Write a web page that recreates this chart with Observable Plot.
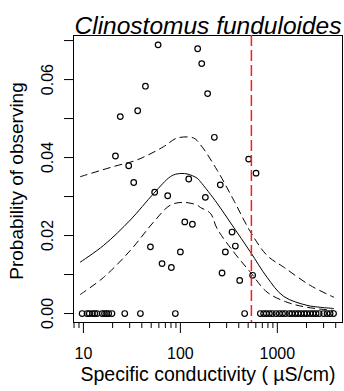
<!DOCTYPE html>
<html>
<head>
<meta charset="utf-8">
<script src="https://cdn.jsdelivr.net/npm/d3@7"></script>
<script src="https://cdn.jsdelivr.net/npm/@observablehq/plot@0.6"></script>
<style>
  html, body { margin: 0; padding: 0; background: #fff; }
</style>
</head>
<body>
<div id="chart"></div>
<script>
// Sites where the species was observed: conductivity (µS/cm) and binned probability
const obsX = [58.9, 150.7, 166, 43.6, 191, 36.3, 24.0, 21.4, 29.3, 224, 506, 603,
              33.0, 122, 54.3, 74.0, 181, 111, 133, 49.1, 100, 64.7, 80.7,
              258, 341, 369, 291, 269, 409, 556];
const obsY = [0.0689, 0.0679, 0.0641, 0.0583, 0.0564, 0.0520, 0.0505, 0.0404, 0.0379, 0.0452, 0.0396, 0.0360,
              0.0336, 0.0345, 0.0311, 0.0302, 0.0298, 0.0235, 0.0229, 0.0171, 0.0158, 0.0128, 0.0118,
              0.0330, 0.0209, 0.0173, 0.0158, 0.0104, 0.0085, 0.0098];

// Conductivity bins with no observations (probability 0)
const absentX = [9.7, 10.9, 11.5, 12.4, 13.1, 13.8, 15.6, 16.5, 17.3, 18.2, 19.7, 26.7, 38.7, 88.7,
                 460, 668, 722, 770, 827, 887, 970, 1050, 1130, 1210, 1330, 1420, 1530, 1640,
                 1760, 1890, 2020, 2180, 2340, 2510, 2700, 3000, 3260, 3500, 3800];

// Fitted response curve and its confidence limits
const fitX = [9.3, 16.2, 30.5, 53.1, 78.8, 92.4, 117, 149, 161, 239, 341, 527, 783, 1162, 2024, 2775, 3805];
const fitY = [0.0132, 0.0175, 0.0240, 0.0308, 0.0351, 0.0358, 0.0358, 0.0347, 0.0338, 0.0283, 0.0227,
              0.0158, 0.0093, 0.0044, 0.0021, 0.0016, 0.0013];
const upperX = [9.3, 20.5, 35.8, 67.3, 92.4, 137, 161, 239, 354, 527, 783, 1162, 2188, 3805];
const upperY = [0.0351, 0.0377, 0.0394, 0.0428, 0.0450, 0.0450, 0.0433, 0.0368, 0.0291, 0.0210,
                0.0149, 0.0119, 0.0072, 0.0042];
const lowerX = [9.3, 16.2, 30.5, 53.1, 78.8, 108, 149, 161, 204, 239, 354, 527, 783, 1259, 2024, 3805];
const lowerY = [0.0049, 0.0093, 0.0162, 0.0235, 0.0278, 0.0285, 0.0278, 0.0272, 0.0257, 0.0218,
                0.0158, 0.0106, 0.0055, 0.0029, 0.0016, 0.0008];

// Conductivity threshold
const threshold = [540];

// Axis ticks
const yTicks = [0, 0.01, 0.02, 0.03, 0.04, 0.05, 0.06, 0.07];
const yLabelled = [0, 0.02, 0.04, 0.06];
const xMajor = [10, 100, 1000];
const xMinor = [8, 9, 20, 30, 40, 50, 60, 70, 80, 90, 200, 300, 400, 500, 600, 700, 800, 900,
                2000, 3000, 4000];

const title = "Clinostomus funduloides";
const xTitle = "Specific conductivity ( µS/cm)";
const yTitle = "Probability of observing";

const toRows = (xs, ys) => xs.map((x, i) => ({x, y: ys[i]}));
const observed = toRows(obsX, obsY);
const absent = absentX.map(x => ({x, y: 0}));
const fit = toRows(fitX, fitY);
const upper = toRows(upperX, upperY);
const lower = toRows(lowerX, lowerY);

const font = "'Liberation Sans', Arial, Helvetica, sans-serif";

const chart = Plot.plot({
  width: 344,
  height: 391,
  marginLeft: 73,
  marginRight: 2,
  marginTop: 35,
  marginBottom: 69,
  style: {fontFamily: font, background: "#fff", color: "#000", overflow: "visible"},
  x: {type: "log", domain: [7.9, 4700], axis: null},
  y: {domain: [-0.0023, 0.0713], axis: null},
  marks: [
    Plot.frame({stroke: "#000", strokeWidth: 1}),
    Plot.axisY(yTicks, {
      anchor: "left", tickSize: 9, tickPadding: 12, tickRotate: -90, fontSize: 16,
      tickFormat: d => yLabelled.some(v => Math.abs(v - d) < 1e-9) ? d3.format(".2f")(d) : "",
      label: null
    }),
    Plot.axisX(xMinor, {anchor: "bottom", tickSize: 6, tickFormat: () => "", label: null}),
    Plot.axisX(xMajor, {anchor: "bottom", tickSize: 11, tickPadding: 14, fontSize: 16,
      tickFormat: d => String(d), label: null}),
    Plot.line(upper, {x: "x", y: "y", curve: "catmull-rom", stroke: "#000", strokeWidth: 1, strokeDasharray: "7,5"}),
    Plot.line(lower, {x: "x", y: "y", curve: "catmull-rom", stroke: "#000", strokeWidth: 1, strokeDasharray: "7,5"}),
    Plot.line(fit, {x: "x", y: "y", curve: "catmull-rom", stroke: "#000", strokeWidth: 1}),
    Plot.dot(observed, {x: "x", y: "y", r: 2.8, stroke: "#000", strokeWidth: 1.2, fill: "none"}),
    Plot.dot(absent, {x: "x", y: "y", r: 2.8, stroke: "#000", strokeWidth: 1.2, fill: "none"}),
    Plot.ruleX(threshold, {stroke: "#ff1a1a", strokeWidth: 1.5, strokeDasharray: "11,4"}),
    Plot.text([title], {text: d => d, frameAnchor: "top", dy: -2, lineAnchor: "bottom",
      fontSize: 24.5, fontStyle: "italic", fill: "#000"}),
    Plot.text([xTitle], {text: d => d, frameAnchor: "bottom", dy: 58, lineAnchor: "bottom",
      fontSize: 19.5, fill: "#000"}),
    Plot.text([yTitle], {text: d => d, frameAnchor: "left", dx: -57, dy: 2, rotate: -90,
      textAnchor: "middle", lineAnchor: "middle", fontSize: 19, fill: "#000"})
  ]
});

document.getElementById("chart").appendChild(chart);
</script>
</body>
</html>
